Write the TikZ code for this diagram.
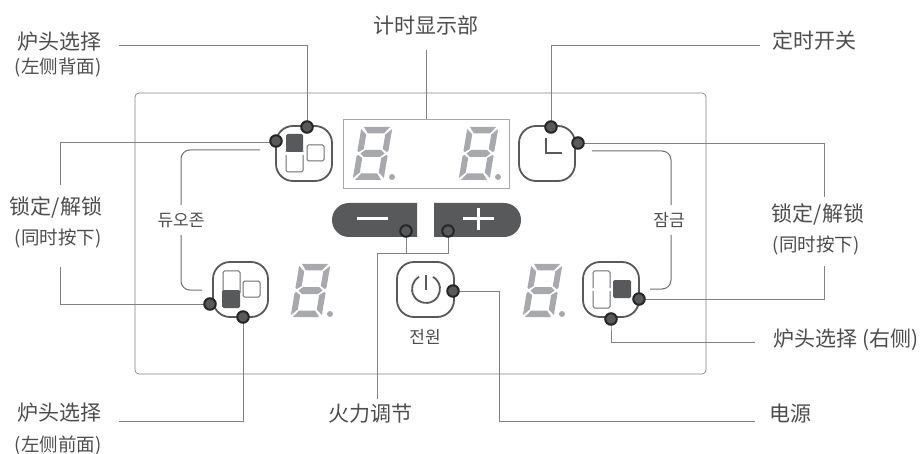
\documentclass[tikz,border=0pt]{standalone}
\usepackage{fontspec}
\setmainfont{Noto Sans CJK SC}
\newfontfamily\krfont{Noto Sans CJK KR}
\usetikzlibrary{backgrounds}
\definecolor{ink}{HTML}{4D4D4F}
\definecolor{dk}{HTML}{58595B}
\definecolor{ln}{HTML}{6D6E71}
\definecolor{ltl}{HTML}{808285}
\definecolor{seg}{HTML}{A7A9AC}
\tikzset{
  x=1pt,y=-1pt,
  lbl/.style={inner sep=0pt,text=ink,font=\fontsize{21}{24}\selectfont},
  lbs/.style={inner sep=0pt,text=ink,font=\fontsize{18.5}{22}\selectfont},
  kr/.style={inner sep=0pt,text=ink,font=\krfont\fontsize{17}{19}\selectfont},
  dotn/.style={circle,draw=black!85,fill=dk,line width=2pt,minimum size=11.5pt,inner sep=0pt},
  btn/.style={draw=dk,line width=1.8pt,rounded corners=17pt,fill=white},
  cn/.style={draw=ltl,line width=0.8pt},
  br/.style={draw=ln,line width=1pt,rounded corners=9pt},
  mini/.style={draw=ln,line width=1pt,rounded corners=1.5pt,fill=white},
  dkbox/.style={fill=dk,rounded corners=1.5pt},
}
\newcommand{\segdigit}[2]{%
\begin{scope}[shift={(#1,#2)},xslant=0.17,fill=seg]
\fill (3,0)--(29,0)--(24,-6.5)--(8,-6.5)--cycle;
\fill (3,-53)--(29,-53)--(24,-46.5)--(8,-46.5)--cycle;
\fill (4,-26.5)--(8,-30)--(24,-30)--(28,-26.5)--(24,-23)--(8,-23)--cycle;
\fill (0.5,-2)--(6.5,-7.5)--(6.5,-22)--(2,-25)--(0.5,-24)--cycle;
\fill (0.5,-51)--(6.5,-45.5)--(6.5,-31)--(2,-28)--(0.5,-29)--cycle;
\fill (31.5,-2)--(25.5,-7.5)--(25.5,-22)--(30,-25)--(31.5,-24)--cycle;
\fill (31.5,-51)--(25.5,-45.5)--(25.5,-31)--(30,-28)--(31.5,-29)--cycle;
\end{scope}
\fill[seg] (#1+40,#2-3) circle (3pt);
}
\begin{document}
\begin{tikzpicture}
\useasboundingbox (0,0) rectangle (923,454);
% panel
\draw[draw=ltl,line width=0.7pt,rounded corners=4pt] (135,93) rectangle (706,374);
\draw[draw=seg,line width=0.9pt] (343,119) rectangle (509,188.5);
\segdigit{352}{180}\segdigit{458}{180}\segdigit{290}{317}\segdigit{522}{317}
% buttons
\draw[btn] (276,126) rectangle (332,181);
\draw[btn] (519,126) rectangle (575,181);
\draw[btn] (213,262) rectangle (268,317);
\draw[btn] (397,262) rectangle (454,317);
\draw[btn] (583,262) rectangle (639,317);
% TL button
\draw[mini] (286,150) rectangle (303,172);
\fill[dkbox] (286,134) rectangle (303,152);
\fill[white] (285,152) rectangle (304,155);
\draw[mini] (307,145) rectangle (324,161);
% BL button
\draw[mini] (223,271) rectangle (240,294);
\fill[dkbox] (222,290) rectangle (240,308);
\draw[mini] (243,281) rectangle (260,297);
% BR button
\draw[mini] (593,271) rectangle (610,308);
\fill[white] (592,288) rectangle (611,291);
\fill[dkbox] (613,280) rectangle (631,298);
% clock and power
\draw[dk,line width=1.8pt] (546,138)--(546,153)--(562,153);
\draw[dk,line width=1.8pt] (419,276.9) arc[start angle=120,end angle=420,radius=14pt];
\draw[dk,line width=1.8pt] (426,275)--(426,290);
% plus / minus
\fill[dk] (417,203)--(349,203) arc[start angle=90,end angle=270,radius=17pt]--(417,237)--cycle;
\fill[dk] (434,203)--(504,203) arc[start angle=90,end angle=-90,radius=17pt]--(434,237)--cycle;
\draw[white,line width=3pt] (357,219)--(388,219);
\draw[white,line width=3pt] (463,219)--(494,219) (478,208)--(478,230);
% dots
\node[dotn] (dA) at (307,127) {};
\node[dotn] (dB) at (276,141) {};
\node[dotn] (dC) at (551,127) {};
\node[dotn] (dD) at (578,143) {};
\node[dotn] (dE) at (210,304) {};
\node[dotn] (dF) at (243,317) {};
\node[dotn] (dG) at (453,291) {};
\node[dotn] (dH) at (639,299) {};
\node[dotn] (dI) at (611,319) {};
\node[dotn] (dJ) at (406,231) {};
\node[dotn] (dK) at (448,231) {};
% labels
\node[lbl] (tA) at (59,42) {炉头选择};
\node[lbs] (tA2) at (58,68) {(左侧背面)};
\node[lbl] (tB) at (426,25) {计时显示部};
\node[lbl] (tC) at (814,40) {定时开关};
\node[lbl] (tD) at (56,207) {锁定/解锁};
\node[lbs] (tD2) at (58,238) {(同时按下)};
\node[lbl] (tE) at (818,214) {锁定/解锁};
\node[lbs] (tE2) at (816,245) {(同时按下)};
\node[lbl] (tF) at (846,340) {炉头选择 (右侧)};
\node[lbl] (tG) at (59,413) {炉头选择};
\node[lbs] (tG2) at (58,445) {(左侧前面)};
\node[lbl] (tH) at (370,414) {火力调节};
\node[lbl] (tI) at (790,414) {电源};
\node[kr] (kA) at (181,221) {듀오존};
\node[kr] (kB) at (669,220) {잠금};
\node[kr] (kC) at (425,337) {전원};
\coordinate (jB) at (426,119);
\begin{scope}[on background layer]
\draw[cn] (119,45)-|(dA.center);
\draw[cn] (426,50)--(jB);
\draw[cn] (760,45)-|(dC.center);
\draw[cn] (dB.center)|-(276,142)-|(60,185);
\draw[cn] (60,267)|-(dE.center);
\draw[cn] (dD.center)-|(824,197);
\draw[cn] (824,266)|-(dH.center);
\draw[cn] (dF.center)|-(119,421);
\draw[cn] (243,309)--(dF.center);
\draw[cn] (611,308)--(dI.center)|-(755,342);
\draw[cn] (dG.center)-|(499,421)--(755,421);
\draw[cn] (dJ.center)--(406,253);
\draw[cn] (dK.center)|-(377,253)--(377,399);
\draw[br] (260,150)--(181,150)--(181,205);
\draw[br] (181,235)--(181,290)--(202,290);
\draw[br] (592,151)--(671,151)--(671,205);
\draw[br] (671,235)--(671,289)--(650,289);
\end{scope}
\end{tikzpicture}
\end{document}
